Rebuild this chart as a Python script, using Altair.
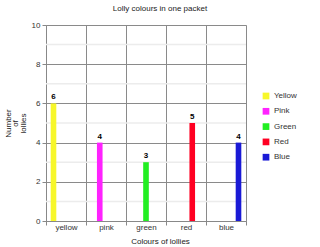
import altair as alt
import pandas as pd

categories = ["yellow", "pink", "green", "red", "blue"]
series = ["Yellow", "Pink", "Green", "Red", "Blue"]
counts = [6, 4, 3, 5, 4]
colors = ["#f7f72a", "#ff22ff", "#22ee22", "#ff0022", "#1a1ad6"]
minor_ticks = [1, 3, 5, 7, 9]
major_ticks = [0, 2, 4, 6, 8, 10]

df = pd.DataFrame({"cat": categories, "series": series, "n": counts})
minor = pd.DataFrame({"v": minor_ticks})

x_enc = alt.X("cat:N", sort=categories,
              scale=alt.Scale(paddingInner=0, paddingOuter=0),
              axis=alt.Axis(title="Colours of lollies", labelAngle=0, tickBand="extent",
                            grid=True, gridColor="#8a8a8a", gridWidth=1,
                            domainColor="#888", tickColor="#888", tickSize=4,
                            labelFont="Liberation Sans", labelFontSize=8, labelColor="#333",
                            labelPadding=-2,
                            titleFont="Liberation Sans", titleFontSize=8, titleFontWeight="normal",
                            titleColor="#222", titleX=114, titleY=22, titleBaseline="alphabetic"))

y_axis = alt.Axis(values=major_ticks, tickCount=20, format="d", title=["Number", "of", "lollies"],
                  grid=True, gridColor="#8a8a8a", gridWidth=1, labelOverlap=False,
                  domainColor="#888", tickColor="#888", tickSize=4,
                  labelFont="Liberation Sans", labelFontSize=8, labelColor="#333",
                  labelPadding=2,
                  titleFont="Liberation Sans", titleFontSize=8, titleFontWeight="normal",
                  titleColor="#222", titleX=-38, titleY=98, titleBaseline="middle",
                  titleAngle=-90, titleLineHeight=7.5, titleAlign="center")
y_scale = alt.Scale(domain=[0, 10])

color_enc = alt.Color("series:N", sort=series,
                      scale=alt.Scale(domain=series, range=colors),
                      legend=alt.Legend(title=None, orient="none", legendX=216, legendY=67,
                                        symbolType="square", symbolSize=45, symbolStrokeWidth=0,
                                        labelFont="Liberation Sans", labelFontSize=8,
                                        labelColor="#333", rowPadding=7.3, labelOffset=4))

xoff = alt.XOffset("series:N", sort=series,
                   scale=alt.Scale(domain=series, paddingInner=0.1, paddingOuter=0.75))

grid_minor = alt.Chart(minor).mark_rule(color="#ececec", strokeWidth=1.5).encode(
    y=alt.Y("v:Q", scale=y_scale, axis=y_axis)
)

bars = alt.Chart(df).mark_bar().encode(
    x=x_enc, xOffset=xoff, y=alt.Y("n:Q", scale=y_scale, axis=y_axis), color=color_enc
)

labels = alt.Chart(df).mark_text(dy=-6, fontSize=8, fontWeight="bold",
                                 font="Liberation Sans", color="#000").encode(
    x=alt.X("cat:N", sort=categories), xOffset=xoff, y="n:Q", text="n:Q"
)

chart = alt.layer(grid_minor, bars, labels).properties(
    width=200, height=196,
    title=alt.TitleParams("Lolly colours in one packet", font="Liberation Sans", fontSize=8,
                          fontWeight="normal", color="#222", anchor="middle", dx=14, offset=8),
    autosize=alt.AutoSizeParams(type="none"),
    padding={"left": 46, "top": 25, "right": 74, "bottom": 26},
).configure_view(stroke=None).configure(background="white")

chart.save("out.html", embed_options={"renderer": "svg", "actions": False})
